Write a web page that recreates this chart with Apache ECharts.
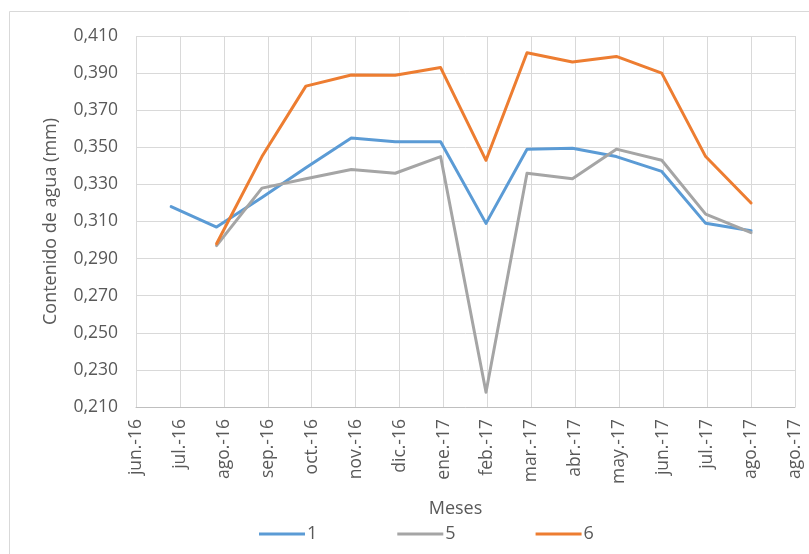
<!DOCTYPE html>
<html>
<head>
<meta charset="utf-8">
<script src="https://cdn.jsdelivr.net/npm/echarts@6/dist/echarts.min.js"></script>
<style>html,body{margin:0;padding:0;background:#fff}#c{width:809px;height:554px}</style>
</head>
<body>
<div id="c"></div>
<script>
// Axis origin (first tick date) and tick step in days (Excel date axis, 30-day major unit)
var axisStart = '2016-06-07';
var tickStepDays = 30;
var tickLabels = ['jun.-16','jul.-16','ago.-16','sep.-16','oct.-16','nov.-16','dic.-16','ene.-17','feb.-17','mar.-17','abr.-17','may.-17','jun.-17','jul.-17','ago.-17','ago.-17'];

var dates1 = ['2016-07-01','2016-08-01','2016-09-01','2016-10-01','2016-11-01','2016-12-01','2017-01-01','2017-02-01','2017-03-01','2017-04-01','2017-05-01','2017-06-01','2017-07-01','2017-08-01'];
var values1 = [0.318,0.307,0.323,0.339,0.355,0.353,0.353,0.309,0.349,0.3495,0.345,0.337,0.309,0.305];

var dates5 = ['2016-08-01','2016-09-01','2016-10-01','2016-11-01','2016-12-01','2017-01-01','2017-02-01','2017-03-01','2017-04-01','2017-05-01','2017-06-01','2017-07-01','2017-08-01'];
var values5 = [0.297,0.328,0.333,0.338,0.336,0.345,0.218,0.336,0.333,0.349,0.343,0.314,0.304];

var dates6 = ['2016-08-01','2016-09-01','2016-10-01','2016-11-01','2016-12-01','2017-01-01','2017-02-01','2017-03-01','2017-04-01','2017-05-01','2017-06-01','2017-07-01','2017-08-01'];
var values6 = [0.298,0.345,0.383,0.389,0.3888,0.393,0.343,0.401,0.396,0.399,0.390,0.345,0.320];

var seriesNames = ['1','5','6'];
var colors = ['#5B9BD5','#A5A5A5','#ED7D31'];

function dayOffset(d){ return (Date.parse(d) - Date.parse(axisStart)) / 86400000; }
function pairs(dates, vals){ return dates.map(function(d,i){ return [dayOffset(d), vals[i]]; }); }

var font = '"Open Sans", "Liberation Sans", sans-serif';
var chart = echarts.init(document.getElementById('c'), null, {renderer:'canvas'});
var mkSeries = function(name, data, color){
  return {name:name, type:'line', data:data, symbol:'none', smooth:false,
    lineStyle:{color:color, width:3, cap:'round', join:'round'}, itemStyle:{color:color}, emphasis:{disabled:true}};
};
chart.setOption({
  animation:false,
  color: colors,
  graphic:[{type:'rect', shape:{x:9.5, y:11.5, width:820, height:560}, style:{fill:'none', stroke:'#d9d9d9', lineWidth:1}, silent:true}],
  grid:{left:136, top:36, right:14, bottom:147, containLabel:false},
  legend:{left:254, top:520, itemWidth:46, itemHeight:3, itemGap:80,
    textStyle:{fontFamily:font, fontSize:18, color:'#595959', padding:[0,0,0,-3]},
    data: seriesNames.map(function(n){ return {name:n, icon:'rect'}; })},
  xAxis:{type:'value', min:0, max:tickStepDays*(tickLabels.length-1), interval:tickStepDays,
    name:'Meses', nameLocation:'middle', nameGap:93,
    nameTextStyle:{fontFamily:font, fontSize:18, color:'#595959', padding:[0,20,0,0]},
    axisLine:{show:true, lineStyle:{color:'#bfbfbf', width:1}},
    axisTick:{show:false},
    splitLine:{show:true, lineStyle:{color:'#d9d9d9', width:1}},
    axisLabel:{rotate:90, margin:12, fontFamily:font, fontSize:17.5, color:'#595959', showMinLabel:true, showMaxLabel:true,
      formatter:function(v){ return tickLabels[Math.round(v/tickStepDays)] || ''; }}},
  yAxis:{type:'value', min:0.21, max:0.41, interval:0.02,
    name:'Contenido de agua (mm)', nameLocation:'middle', nameGap:76,
    nameTextStyle:{fontFamily:font, fontSize:18, color:'#595959'},
    axisLine:{show:false}, axisTick:{show:false},
    splitLine:{show:true, lineStyle:{color:'#d9d9d9', width:1}},
    axisLabel:{margin:18, fontFamily:font, fontSize:17.5, color:'#595959',
      formatter:function(v){ return v.toFixed(3).replace('.', ','); }}},
  series:[
    mkSeries(seriesNames[0], pairs(dates1, values1), colors[0]),
    mkSeries(seriesNames[1], pairs(dates5, values5), colors[1]),
    mkSeries(seriesNames[2], pairs(dates6, values6), colors[2])
  ]
});
</script>
</body>
</html>
